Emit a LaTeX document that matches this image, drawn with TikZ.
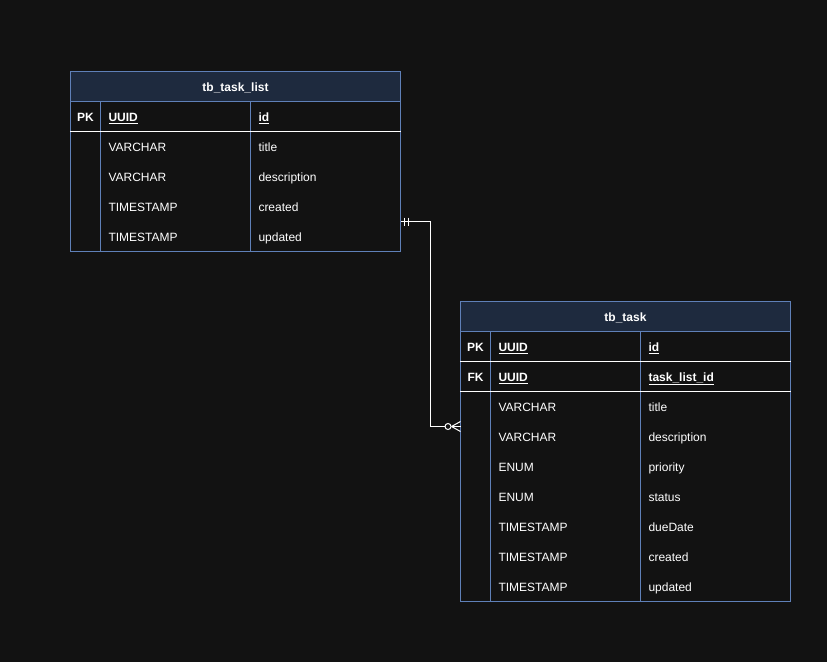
\documentclass[tikz,border=0pt]{standalone}
\usepackage{fontspec}
\setmainfont{Liberation Sans}
\usetikzlibrary{calc}
\definecolor{bgc}{HTML}{121212}
\definecolor{hdrc}{HTML}{1E2A3E}
\definecolor{bordc}{HTML}{5F80B8}
\begin{document}
\begin{tikzpicture}[x=1pt,y=-1pt,line width=1pt,
  tbl/.style={draw=bordc,fill=bgc,minimum width=330pt,inner sep=0pt,outer sep=0pt,anchor=north west,line width=1pt},
  hdr/.style={draw=bordc,fill=hdrc,minimum width=330pt,minimum height=30pt,inner sep=0pt,outer sep=0pt,anchor=north west,line width=1pt},
  txt/.style={text=white,font=\fontsize{12}{14}\selectfont,inner sep=0pt,anchor=base west},
  btxt/.style={txt,font=\fontsize{12}{14}\selectfont\bfseries},
  ctxt/.style={text=white,font=\fontsize{12}{14}\selectfont\bfseries,inner sep=0pt,anchor=base},
  colline/.style={draw=bordc,line width=1pt},
  sepline/.style={draw=white,line width=1pt},
  conn/.style={draw=white,line width=1pt}]
\fill[bgc] (0,0) rectangle (827,662);
\useasboundingbox (0,0) rectangle (827,662);

% ---------- table 1 ----------
\node[tbl,minimum height=180pt] (t1) at (70.5,71.5) {};
\node[hdr] (t1h) at (70.5,71.5) {};
\node[ctxt] (t1title) at (235.5,91.5) {tb\_task\_list};
\draw[colline] (100.5,101.5) -- (100.5,251.5);
\draw[colline] (250.5,101.5) -- (250.5,251.5);
\draw[sepline] (70,131.5) -- (401,131.5);
\node[ctxt] (t1pk) at (85.5,121.5) {PK};
\node[btxt] (t1pkt) at (108,121.5) {\underline{UUID}};
\node[btxt] (t1pkn) at (258,121.5) {\underline{id}};
\foreach \t/\n [count=\i] in {VARCHAR/title,VARCHAR/description,TIMESTAMP/created,TIMESTAMP/updated}{
  \node[txt] (t1a\i) at (108,121.5+30*\i) {\t};
  \node[txt] (t1b\i) at (258,121.5+30*\i) {\n};
}

% ---------- table 2 ----------
\node[tbl,minimum height=300pt] (t2) at (460.5,301.5) {};
\node[hdr] (t2h) at (460.5,301.5) {};
\node[ctxt] (t2title) at (625.5,321.5) {tb\_task};
\draw[colline] (490.5,331.5) -- (490.5,601.5);
\draw[colline] (640.5,331.5) -- (640.5,601.5);
\draw[sepline] (460,361.5) -- (791,361.5);
\draw[sepline] (460,391.5) -- (791,391.5);
\node[ctxt] (t2pk) at (475.5,351.5) {PK};
\node[btxt] (t2pkt) at (498,351.5) {\underline{UUID}};
\node[btxt] (t2pkn) at (648,351.5) {\underline{id}};
\node[ctxt] (t2fk) at (475.5,381.5) {FK};
\node[btxt] (t2fkt) at (498,381.5) {\underline{UUID}};
\node[btxt] (t2fkn) at (648,381.5) {\underline{task\_list\_id}};
\foreach \t/\n [count=\i] in {VARCHAR/title,VARCHAR/description,ENUM/priority,ENUM/status,TIMESTAMP/dueDate,TIMESTAMP/created,TIMESTAMP/updated}{
  \node[txt] (t2a\i) at (498,381.5+30*\i) {\t};
  \node[txt] (t2b\i) at (648,381.5+30*\i) {\n};
}

% ---------- connector ----------
\coordinate (ca) at ($(t1.north east)+(0,150)$);
\coordinate (cb) at ($(t2.north west)+(0,125)$);
\draw[conn] (ca) -- ++(30,0) |- ($(cb)+(-15.5,0)$);
% mandatory one
\draw[conn] ($(ca)+(4,-4)$) -- ($(ca)+(4,4)$);
\draw[conn] ($(ca)+(8,-4)$) -- ($(ca)+(8,4)$);
% zero or many
\draw[conn,fill=bgc] ($(cb)+(-12.5,0)$) circle (3pt);
\draw[conn] ($(cb)+(-9,0)$) -- ($(cb)+(0,-5)$);
\draw[conn] ($(cb)+(-9,0)$) -- (cb);
\draw[conn] ($(cb)+(-9,0)$) -- ($(cb)+(0,5)$);
\end{tikzpicture}
\end{document}
